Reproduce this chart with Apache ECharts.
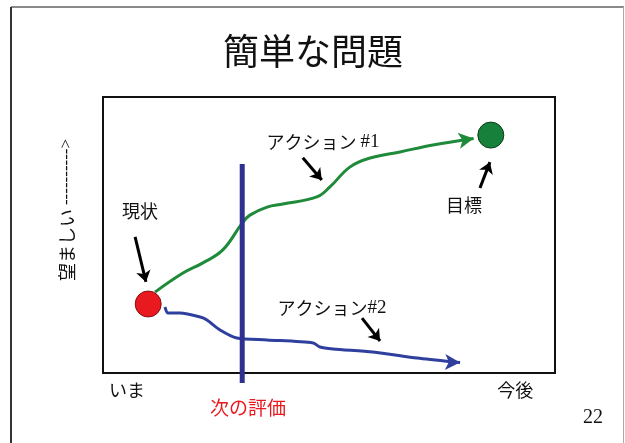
<!DOCTYPE html>
<html>
<head>
<meta charset="utf-8">
<script src="https://cdn.jsdelivr.net/npm/echarts@6/dist/echarts.min.js"></script>
<style>
  html, body { margin: 0; padding: 0; background: #fff; }
  #chart { width: 625px; height: 443px; }
</style>
</head>
<body>
<div id="chart"></div>
<script>
// Horizontal axis: time (0 = now, 100 = future); vertical axis: desirability.
const timeTicks = [5.3, 91.2];
const timeTickLabels = ['いま', '今後'];

// Current state and goal
const currentState = [10.0, 25.0];
const goalState = [85.8, 86.2];

// Action #1: path climbing toward the goal
const action1X = [11.5, 17.7, 22.1, 26.5, 30.8, 32.5, 36.3, 39.8, 47.3, 50.2, 54.6, 59.1, 65.7, 73.0, 82.0];
const action1Y = [29.3, 36.2, 39.9, 44.6, 54.3, 57.2, 60.1, 61.2, 63.8, 67.4, 74.6, 77.9, 80.1, 82.6, 85.0];

// Action #2: path drifting downward
const action2X = [13.7, 14.4, 17.0, 21.5, 23.0, 25.9, 29.6, 36.3, 46.5, 48.0, 50.9, 59.7, 69.5, 77.4, 79.0];
const action2Y = [23.9, 21.7, 21.7, 20.3, 19.2, 15.6, 12.7, 12.0, 10.9, 9.4, 8.7, 7.6, 5.4, 4.0, 3.8];

// Next evaluation point (vertical marker)
const evaluationX = 30.8;
const evaluationSpan = [75.7, -3.6];

// Pointer arrows: [fromX, fromY, toX, toY]
const pointerArrows = [
  [7.1, 49.3, 9.5, 33.0],    // 現状
  [44.2, 78.0, 48.4, 69.9],  // アクション #1
  [83.4, 67.0, 85.6, 76.4],  // 目標
  [57.3, 19.9, 61.3, 11.6]   // アクション#2
];

function zipXY(xs, ys) { return xs.map((x, i) => [x, ys[i]]); }

function withArrowEnd(points, rotate) {
  return points.map((p, i) => i === points.length - 1
    ? { value: p, symbol: 'arrow', symbolSize: [12, 15], symbolRotate: rotate }
    : { value: p });
}

const jp = '"Noto Sans CJK JP", "Noto Sans", sans-serif';
const serif = '"Liberation Serif", "DejaVu Serif", serif';

const chart = echarts.init(document.getElementById('chart'), null, { renderer: 'canvas' });

chart.setOption({
  animation: false,
  backgroundColor: '#ffffff',
  grid: {
    left: 103, top: 97, width: 452, height: 276,
    show: true, borderColor: '#111', borderWidth: 2, backgroundColor: 'transparent'
  },
  xAxis: {
    type: 'value', min: 0, max: 100,
    axisLine: { show: false }, axisTick: { show: false }, splitLine: { show: false },
    axisLabel: {
      customValues: timeTicks,
      formatter: (v) => timeTickLabels[timeTicks.indexOf(v)] || '',
      margin: 8, color: '#111', fontSize: 18, fontFamily: jp
    }
  },
  yAxis: {
    type: 'value', min: 0, max: 100,
    axisLine: { show: false }, axisTick: { show: false }, splitLine: { show: false },
    axisLabel: { show: false }
  },
  series: [
    {
      name: 'アクション #1', type: 'line', smooth: 0.4,
      symbol: 'none', showSymbol: true,
      lineStyle: { color: '#1f8a3a', width: 3 },
      itemStyle: { color: '#1f8a3a' },
      data: withArrowEnd(zipXY(action1X, action1Y), -81),
      z: 3
    },
    {
      name: 'アクション#2', type: 'line', smooth: 0.25,
      symbol: 'none', showSymbol: true,
      lineStyle: { color: '#2f3f9e', width: 3 },
      itemStyle: { color: '#2f3f9e' },
      data: withArrowEnd(zipXY(action2X, action2Y), -92),
      z: 3
    },
    {
      name: '次の評価', type: 'line', clip: false,
      symbol: 'none',
      lineStyle: { color: '#2e3192', width: 5 },
      data: evaluationSpan.map(y => [evaluationX, y]),
      z: 4
    },
    {
      name: '現状', type: 'scatter', symbolSize: 26,
      itemStyle: { color: '#e8191f', borderColor: '#8a1010', borderWidth: 1, opacity: 1 },
      data: [currentState], z: 5
    },
    {
      name: '目標', type: 'scatter', symbolSize: 26,
      itemStyle: { color: '#17803a', borderColor: '#0b3d1a', borderWidth: 1, opacity: 1 },
      data: [goalState], z: 5
    },
    {
      name: 'pointers', type: 'lines', coordinateSystem: 'cartesian2d',
      symbol: ['none', 'arrow'], symbolSize: 11,
      lineStyle: { color: '#000', width: 3, opacity: 1, curveness: 0 },
      data: pointerArrows.map(a => ({ coords: [[a[0], a[1]], [a[2], a[3]]] })),
      z: 6
    }
  ],
  graphic: [
    // slide frame
    { type: 'line', shape: { x1: 11, y1: 7, x2: 624, y2: 7 }, style: { stroke: '#8a8a8a', lineWidth: 2 } },
    { type: 'line', shape: { x1: 11, y1: 7, x2: 11, y2: 443 }, style: { stroke: '#333', lineWidth: 2 } },
    { type: 'line', shape: { x1: 623.5, y1: 7, x2: 623.5, y2: 443 }, style: { stroke: '#aaa', lineWidth: 1 } },
    // title
    { type: 'text', x: 313, y: 51, style: { text: '簡単な問題', fontSize: 36, fontFamily: jp, fill: '#111', align: 'center', verticalAlign: 'middle' } },
    // vertical axis caption
    { type: 'text', x: 67, y: 210, rotation: Math.PI / 2,
      style: { text: '{j|望ましい }{s|---------->}', align: 'center', verticalAlign: 'middle', fill: '#111',
        rich: { j: { fontSize: 18, fontFamily: jp }, s: { fontSize: 17, fontFamily: serif } } } },
    // annotations
    { type: 'text', x: 140, y: 211, style: { text: '現状', fontSize: 18, fontFamily: jp, fill: '#111', align: 'center', verticalAlign: 'middle' } },
    { type: 'text', x: 323, y: 142,
      style: { text: '{j|アクション }{s|#1}', align: 'center', verticalAlign: 'middle', fill: '#111',
        rich: { j: { fontSize: 18, fontFamily: jp }, s: { fontSize: 19, fontFamily: serif } } } },
    { type: 'text', x: 464, y: 205, style: { text: '目標', fontSize: 18, fontFamily: jp, fill: '#111', align: 'center', verticalAlign: 'middle' } },
    { type: 'text', x: 332, y: 308,
      style: { text: '{j|アクション}{s|#2}', align: 'center', verticalAlign: 'middle', fill: '#111',
        rich: { j: { fontSize: 18, fontFamily: jp }, s: { fontSize: 19, fontFamily: serif } } } },
    { type: 'text', x: 248, y: 408, style: { text: '次の評価', fontSize: 19, fontFamily: jp, fill: '#e8191f', align: 'center', verticalAlign: 'middle' } },
    { type: 'text', x: 593, y: 418, style: { text: '22', fontSize: 20, fontFamily: serif, fill: '#111', align: 'center', verticalAlign: 'middle' } }
  ]
});
</script>
</body>
</html>
